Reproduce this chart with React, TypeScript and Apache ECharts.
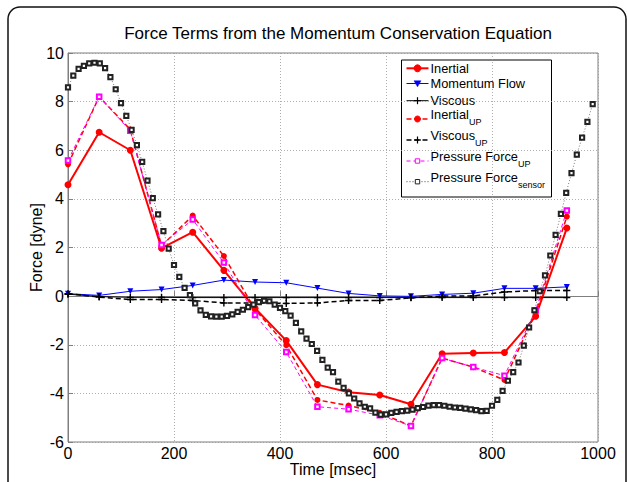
import React, { useEffect, useRef } from "react";
import * as echarts from "echarts";

// ---- data ----
const eqTime = [0, 58.8, 117.6, 176.5, 235.3, 294.1, 352.9, 411.8, 470.6, 529.4, 588.2, 647.1, 705.9, 764.7, 823.5, 882.4, 941.2];
const inertial = [4.58, 6.74, 6.0, 1.97, 2.63, 1.06, -0.5, -1.83, -3.64, -3.95, -4.07, -4.45, -2.37, -2.34, -2.32, -0.83, 2.8];
const momentumFlow = [0.1, 0.03, 0.2, 0.27, 0.44, 0.66, 0.58, 0.55, 0.33, 0.11, 0.01, -0.01, 0.07, 0.12, 0.32, 0.32, 0.38];
const viscous = [0.08, -0.02, -0.05, -0.05, -0.06, -0.06, -0.06, -0.06, -0.06, -0.06, -0.06, -0.06, -0.06, -0.06, -0.06, -0.06, -0.06];
const inertialUP = [5.42, 8.2, 6.85, 2.07, 3.31, 1.65, -0.55, -2.02, -4.27, -4.5, -4.8, -5.34, -2.55, -2.92, -3.45, -0.68, 3.27];
const viscousUP = [0.1, -0.04, -0.14, -0.14, -0.18, -0.28, -0.28, -0.3, -0.28, -0.18, -0.18, -0.07, 0.0, 0.01, 0.17, 0.23, 0.23];
const pressureUP = [5.58, 8.2, 6.8, 2.1, 3.15, 1.38, -0.78, -2.3, -4.55, -4.65, -4.9, -5.34, -2.55, -2.92, -3.27, -0.58, 3.52];

const sensorTime = [
  0, 10, 20, 30, 40, 50, 60, 70, 80, 90,
  100, 110, 120, 130, 140, 150, 160, 170, 180, 190,
  200, 210, 220, 230, 240, 250, 260, 270, 280, 290,
  300, 310, 320, 330, 340, 350, 360, 370, 380, 390,
  400, 410, 420, 430, 440, 450, 460, 470, 480, 490,
  500, 510, 520, 530, 540, 550, 560, 570, 580, 590,
  600, 610, 620, 630, 640, 650, 660, 670, 680, 690,
  700, 710, 720, 730, 740, 750, 760, 770, 780, 790,
  800, 810, 820, 830, 840, 850, 860, 870, 880, 890,
  900, 910, 920, 930, 940, 950, 960, 970, 980, 990,
];
const pressureSensor = [
  8.59, 9.07, 9.35, 9.47, 9.57, 9.6, 9.57, 9.38, 9.01, 8.51,
  7.94, 7.41, 6.84, 6.21, 5.52, 4.75, 4.03, 3.36, 2.67, 1.95,
  1.28, 0.79, 0.34, 0.04, -0.3, -0.59, -0.77, -0.83, -0.84, -0.84,
  -0.81, -0.75, -0.65, -0.56, -0.45, -0.35, -0.25, -0.19, -0.21, -0.35,
  -0.48, -0.62, -0.8, -1.1, -1.45, -1.75, -1.97, -2.25, -2.62, -2.94,
  -3.13, -3.52, -3.77, -4.0, -4.21, -4.41, -4.55, -4.62, -4.79, -4.87,
  -4.86, -4.8, -4.76, -4.73, -4.71, -4.67, -4.61, -4.56, -4.5, -4.48,
  -4.48, -4.51, -4.55, -4.58, -4.6, -4.63, -4.66, -4.69, -4.73, -4.72,
  -4.51, -4.27, -3.9, -3.48, -3.13, -2.73, -2.04, -1.29, -0.58, 0.2,
  0.85, 1.67, 2.52, 3.38, 4.25, 5.06, 5.82, 6.52, 7.17, 7.9,
];

const titleText = "Force Terms from the Momentum Conservation Equation";
const xName = "Time [msec]";
const yName = "Force [dyne]";

const FONT = "'Liberation Sans', Arial, Helvetica, sans-serif";
const PLUS = "path://M4,0h2v4h4v2h-4v4h-2v-4h-4v-2h4z";

const pairs = (xs: number[], ys: number[]) => xs.map((x, i) => [x, ys[i]]);

export default function App() {
  const ref = useRef<HTMLDivElement>(null);
  useEffect(() => {
    if (!ref.current) return;
    const chart = echarts.init(ref.current, null, { renderer: "svg" });

    // legend built with graphic elements
    const lx1 = 406.5, lx2 = 428.5, lcx = 417.5, tx = 430.5;
    const LFS = 12.8;
    const SFS = 9;
    const legendItems: any[] = [];
    const lineEl = (y: number, color: string, lw: number, dash?: number[]) => ({
      type: "line",
      shape: { x1: lx1, y1: y, x2: lx2, y2: y },
      style: { stroke: color, lineWidth: lw, lineDash: dash },
    });
    const circleEl = (y: number, color: string, r: number) => ({
      type: "circle",
      shape: { cx: lcx, cy: y, r },
      style: { fill: color, stroke: color, lineWidth: 1 },
    });
    const plusEl = (y: number) => [
      { type: "line", shape: { x1: lcx - 3.5, y1: y, x2: lcx + 3.5, y2: y }, style: { stroke: "#000", lineWidth: 1.2 } },
      { type: "line", shape: { x1: lcx, y1: y - 3.5, x2: lcx, y2: y + 3.5 }, style: { stroke: "#000", lineWidth: 1.2 } },
    ];
    const squareEl = (y: number, color: string) => ({
      type: "rect",
      shape: { x: lcx - 2.2, y: y - 2.2, width: 4.4, height: 4.4 },
      style: { fill: "#fff", stroke: color, lineWidth: 1 },
    });
    const plainText = (y: number, t: string) => ({
      type: "text",
      x: tx,
      y,
      style: { text: t, fontSize: LFS, fontFamily: FONT, fill: "#000", verticalAlign: "middle", align: "left" },
    });
    const subText = (yMain: number, main: string, sub: string) => ({
      type: "text",
      x: tx,
      y: yMain - 7,
      style: {
        text: `{m|${main}}{s|${sub}}`,
        fontFamily: FONT,
        fill: "#000",
        verticalAlign: "top",
        align: "left",
        rich: {
          m: { fontSize: LFS, lineHeight: 14, padding: [0, 0, 5, 0], fontFamily: FONT, fill: "#000" },
          s: { fontSize: SFS, lineHeight: 9, padding: [10, 0, 0, 0], fontFamily: FONT, fill: "#000" },
        },
      },
    });

    legendItems.push({
      type: "rect",
      shape: { x: 401.5, y: 60, width: 150, height: 137 },
      style: { fill: "#fff", stroke: "#000", lineWidth: 1 },
    });
    legendItems.push(lineEl(68.3, "#ff0000", 2), circleEl(68.3, "#ff0000", 3.5), plainText(68.3, "Inertial"));
    legendItems.push(lineEl(83.5, "#0000ff", 1), {
      type: "polygon",
      shape: { points: [[lcx - 3.5, 80.8], [lcx + 3.5, 80.8], [lcx, 86.8]] },
      style: { fill: "#0000ff", stroke: "#0000ff", lineWidth: 0.5 },
    }, plainText(83.5, "Momentum Flow"));
    legendItems.push(lineEl(100.7, "#000", 1), ...plusEl(100.7), plainText(100.7, "Viscous"));
    legendItems.push(lineEl(119, "#ff0000", 1.5, [5, 3]), circleEl(119, "#ff0000", 3), subText(116.7, "Inertial", "UP"));
    legendItems.push(lineEl(140, "#000", 1.5, [5, 3]), ...plusEl(140), subText(138.3, "Viscous", "UP"));
    legendItems.push(lineEl(161, "#ff00ff", 1, [4, 3]), squareEl(161, "#ff00ff"), subText(159.3, "Pressure Force", "UP"));
    legendItems.push(lineEl(181.7, "#444", 1, [1, 2]), squareEl(181.7, "#222"), subText(180, "Pressure Force", "sensor"));

    const option: any = {
      animation: false,
      backgroundColor: "#fff",
      title: {
        text: titleText,
        left: 333,
        top: 20,
        textAlign: "center",
        textStyle: { fontSize: 17, fontWeight: "normal", fontFamily: FONT, color: "#000" },
      },
      grid: {
        left: 68,
        right: 29,
        top: 53,
        bottom: 40,
        show: true,
        borderColor: "#7f7f7f",
        borderWidth: 1,
        backgroundColor: "transparent",
      },
      xAxis: {
        type: "value",
        min: 0,
        max: 1000,
        interval: 200,
        name: xName,
        nameLocation: "middle",
        nameGap: 19,
        nameMoveOverlap: false,
        nameTextStyle: { fontSize: 16, fontFamily: FONT, color: "#000" },
        axisLine: { show: true, lineStyle: { color: "#7f7f7f", width: 1 } },
        axisTick: { show: true, inside: true, length: 5, lineStyle: { color: "#7f7f7f" } },
        axisLabel: { fontSize: 16, fontFamily: FONT, color: "#000", margin: 3, formatter: (v: number) => String(v) },
        splitLine: { show: true, lineStyle: { color: "#9a9a9a", type: [1, 2], width: 0.8 } },
      },
      yAxis: {
        type: "value",
        min: -6,
        max: 10,
        interval: 2,
        name: yName,
        nameLocation: "middle",
        nameGap: 24,
        nameMoveOverlap: false,
        nameRotate: 90,
        nameTextStyle: { fontSize: 16, fontFamily: FONT, color: "#000" },
        axisLine: { show: true, lineStyle: { color: "#7f7f7f", width: 1 } },
        axisTick: { show: true, inside: true, length: 5, lineStyle: { color: "#7f7f7f" } },
        axisLabel: { fontSize: 16, fontFamily: FONT, color: "#000", margin: 4 },
        splitLine: { show: true, lineStyle: { color: "#9a9a9a", type: [1, 2], width: 0.8 } },
      },
      series: [
        {
          name: "Inertial",
          type: "line",
          data: pairs(eqTime, inertial),
          symbol: "circle",
          symbolSize: 7,
          lineStyle: { color: "#ff0000", width: 2 },
          itemStyle: { color: "#ff0000" },
        },
        {
          name: "Momentum Flow",
          type: "line",
          data: pairs(eqTime, momentumFlow),
          symbol: "triangle",
          symbolRotate: 180,
          symbolSize: 6,
          lineStyle: { color: "#0000ff", width: 1 },
          itemStyle: { color: "#0000ff" },
        },
        {
          name: "Viscous",
          type: "line",
          data: pairs(eqTime, viscous),
          symbol: PLUS,
          symbolSize: 7,
          lineStyle: { color: "#000", width: 1 },
          itemStyle: { color: "#000" },
        },
        {
          name: "InertialUP",
          type: "line",
          data: pairs(eqTime, inertialUP),
          symbol: "circle",
          symbolSize: 6,
          lineStyle: { color: "#ff0000", width: 1.5, type: [5, 3] },
          itemStyle: { color: "#ff0000" },
        },
        {
          name: "ViscousUP",
          type: "line",
          data: pairs(eqTime, viscousUP),
          symbol: PLUS,
          symbolSize: 7,
          lineStyle: { color: "#000", width: 1.5, type: [5, 3] },
          itemStyle: { color: "#000" },
        },
        {
          name: "Pressure ForceUP",
          type: "line",
          data: pairs(eqTime, pressureUP),
          symbol: "emptyRect",
          symbolSize: 4.5,
          lineStyle: { color: "#ff00ff", width: 1, type: [4, 3] },
          itemStyle: { color: "#ff00ff", borderWidth: 1 },
        },
        {
          name: "Pressure Force sensor",
          type: "line",
          data: pairs(sensorTime, pressureSensor),
          symbol: "emptyRect",
          symbolSize: 4.2,
          lineStyle: { color: "#555", width: 0.8, type: [1, 2] },
          itemStyle: { color: "#222", borderWidth: 0.9 },
        },
      ],
      graphic: [
        {
          type: "rect",
          z: -10,
          silent: true,
          shape: { x: 8, y: 7, width: 618, height: 500, r: 12 },
          style: { fill: "none", stroke: "#111", lineWidth: 1.5 },
        },
        { type: "group", z: 100, children: legendItems },
      ],
    };
    chart.setOption(option);
    return () => chart.dispose();
  }, []);
  return (
    <div
      ref={ref}
      style={{ position: "fixed", left: 0, top: 0, width: 627, height: 482, background: "#fff" }}
    />
  );
}
